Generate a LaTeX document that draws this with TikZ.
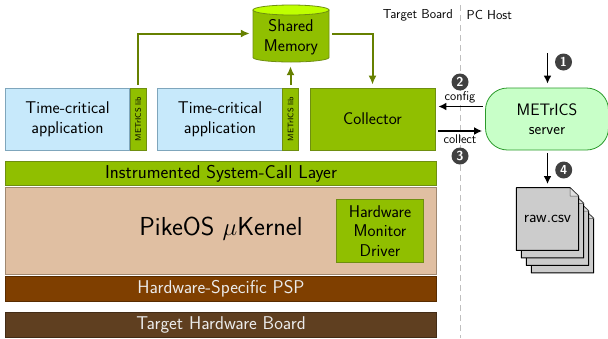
\documentclass[tikz,border=0pt]{standalone}
\usetikzlibrary{shapes.geometric,arrows.meta,calc}
\definecolor{gfill}{HTML}{90BF00}
\definecolor{gline}{HTML}{6F8F10}
\definecolor{arrowg}{HTML}{668000}
\definecolor{appfill}{HTML}{C7E9FB}
\definecolor{appline}{HTML}{7FA6BC}
\definecolor{kernfill}{HTML}{E0BFA2}
\definecolor{kernline}{HTML}{A08870}
\definecolor{pspfill}{HTML}{7F3F00}
\definecolor{boardfill}{HTML}{5F3F20}
\definecolor{srvfill}{HTML}{C8FFC8}
\definecolor{srvline}{HTML}{2A9A2A}
\definecolor{cyltop}{HTML}{BFFF00}
\definecolor{badge}{HTML}{404040}
\definecolor{pagefill}{HTML}{CCCCCC}
\newcommand{\fs}[1]{\fontsize{#1}{#1}\selectfont}
\newcommand{\docpage}[2]{%
  \filldraw[fill=pagefill,draw=black,line width=1pt,line join=round]
    (#1,#2) -- ++(53.7,0) -- ++(8.7,8.3) -- ++(0,54.3) -- ++(-62.4,0) -- cycle;
  \filldraw[fill=pagefill!60,draw=black!70,line width=.5pt,line join=round]
    (#1+53.7,#2) -- ++(8.7,8.3) -- ++(-8.7,0) -- cycle;}
\tikzset{
  base/.style={inner sep=0pt,align=center,font=\sffamily,line width=.8pt},
  appbox/.style={base,draw=appline,fill=appfill,font=\sffamily\fs{17}},
  libbox/.style={base,draw=gline,fill=gfill,font=\sffamily\fs{8}},
  greenbox/.style={base,draw=gline,fill=gfill,font=\sffamily\fs{17}},
  darkbox/.style={base,draw=#1!70!black,fill=#1,text=white!92!black,font=\sffamily\fs{18.5}},
  flow/.style={draw=arrowg,line width=2pt,-{Latex[length=9pt,width=8pt]}},
  blackflow/.style={draw=black,line width=1.6pt,-{Latex[length=8pt,width=8pt]}},
  num/.style={circle,fill=badge,text=white,minimum size=17pt,inner sep=0pt,font=\sffamily\bfseries\fs{13}},
  small/.style={inner sep=0pt,font=\sffamily\fs{12.6}},
  head/.style={inner sep=0pt,font=\sffamily\fs{13}},
}
\begin{document}
\begin{tikzpicture}[x=1pt,y=-1pt]
\useasboundingbox (0,0) rectangle (608,338);
% separator
\coordinate (sepT) at (460.5,5);
\coordinate (sepB) at (460.5,338);
\draw[draw=black!25,line width=1.6pt,dash pattern=on 6pt off 4pt] (sepT) -- (sepB);
\node[head,anchor=east] (tb) at (453,15) {Target\ Board};
\node[head,anchor=west] (pc) at (466.5,15) {PC\ Host};
% applications
\node[appbox,minimum width=124.5pt,minimum height=62pt] (app1) at (67.5,119) {Time-critical\\[3pt]application};
\node[libbox,minimum width=16pt,minimum height=62pt] (lib1) at (138,119) {\rotatebox{90}{METrICS lib}};
\node[appbox,minimum width=124.5pt,minimum height=62pt] (app2) at (220,119) {Time-critical\\[3pt]application};
\node[libbox,minimum width=16pt,minimum height=62pt] (lib2) at (290.5,119) {\rotatebox{90}{METrICS lib}};
\node[greenbox,minimum width=125pt,minimum height=62pt] (coll) at (372.5,119) {Collector};
% layers
\node[greenbox,font=\sffamily\fs{18.6},minimum width=431pt,minimum height=24.5pt] (layer) at (221,173.5) {Instrumented System-Call Layer};
\node[base,draw=kernline,fill=kernfill,minimum width=431pt,minimum height=87pt] (kern) at (221,231) {};
\node[inner sep=0pt,font=\sffamily\fs{26}] (kernlabel) at (221,229) {PikeOS $\mu$Kernel};
\node[greenbox,minimum width=87.5pt,minimum height=62.5pt] (drv) at (380,231) {Hardware\\[2.5pt]Monitor\\[2.5pt]Driver};
\node[darkbox=pspfill,minimum width=431pt,minimum height=25pt] (psp) at (221,288.5) {Hardware-Specific PSP};
\node[darkbox=boardfill,minimum width=431pt,minimum height=25pt] (board) at (221,324.5) {Target Hardware Board};
% shared memory
\filldraw[fill=gfill,draw=gline,line width=.8pt]
  (253,10) -- (253,57.5) arc[start angle=180,end angle=360,x radius=38pt,y radius=4.5pt]
  -- (329,10) -- cycle;
\filldraw[fill=cyltop,draw=gline,line width=.8pt] (291,10) ellipse[x radius=38pt,y radius=5pt];
\node[inner sep=0pt,minimum width=76pt,minimum height=57pt] (mem) at (291,33.5) {};
\node[inner sep=0pt,align=center,font=\sffamily\fs{17}] (memlabel) at (291,37) {Shared\\[3pt]Memory};
% server
\node[base,rounded corners=22pt,draw=srvline,fill=srvfill,minimum width=123pt,minimum height=62pt,font=\sffamily\fs{16.6}] (srv) at (547,119) {METrICS\\[2pt]{\fs{16}server}};
% documents
\docpage{531.3}{210.2}
\docpage{526.3}{202.7}
\docpage{521.3}{195.2}
\docpage{516.3}{187.7}
\node[inner sep=0pt,minimum width=62.4pt,minimum height=62.6pt,font=\sffamily\fs{16.5}] (raw) at (547.5,219) {raw.csv};
% green connectors
\draw[flow,shorten <=3pt,shorten >=3pt] (lib1.north) |- (mem.west);
\draw[flow,shorten <=3pt,shorten >=4pt] (lib2.north) -- (lib2.north |- mem.south);
\draw[flow,shorten <=3pt,shorten >=3pt] (mem.east) -| (coll.north);
% black connectors
\coordinate (start1) at (547.5,53);
\draw[blackflow,shorten >=4pt] (start1) -- (srv.north -| start1);
\draw[blackflow,shorten <=3pt,shorten >=3.5pt] (srv.south -| start1) -- (raw.north);
\draw[blackflow,shorten <=2.5pt,shorten >=3pt] (srv.west |- 0,106.5) -- (coll.east |- 0,106.5);
\draw[blackflow,shorten <=3pt,shorten >=3pt] (coll.east |- 0,131) -- (srv.west |- 0,131);
\node[small] (cfg) at (460,97) {config};
\node[small] (col) at (460,139.5) {collect};
\node[num] (n1) at (563.5,62) {1};
\node[num] (n2) at (460,82) {2};
\node[num] (n3) at (460,156) {3};
\node[num] (n4) at (563.7,170) {4};
\end{tikzpicture}
\end{document}
